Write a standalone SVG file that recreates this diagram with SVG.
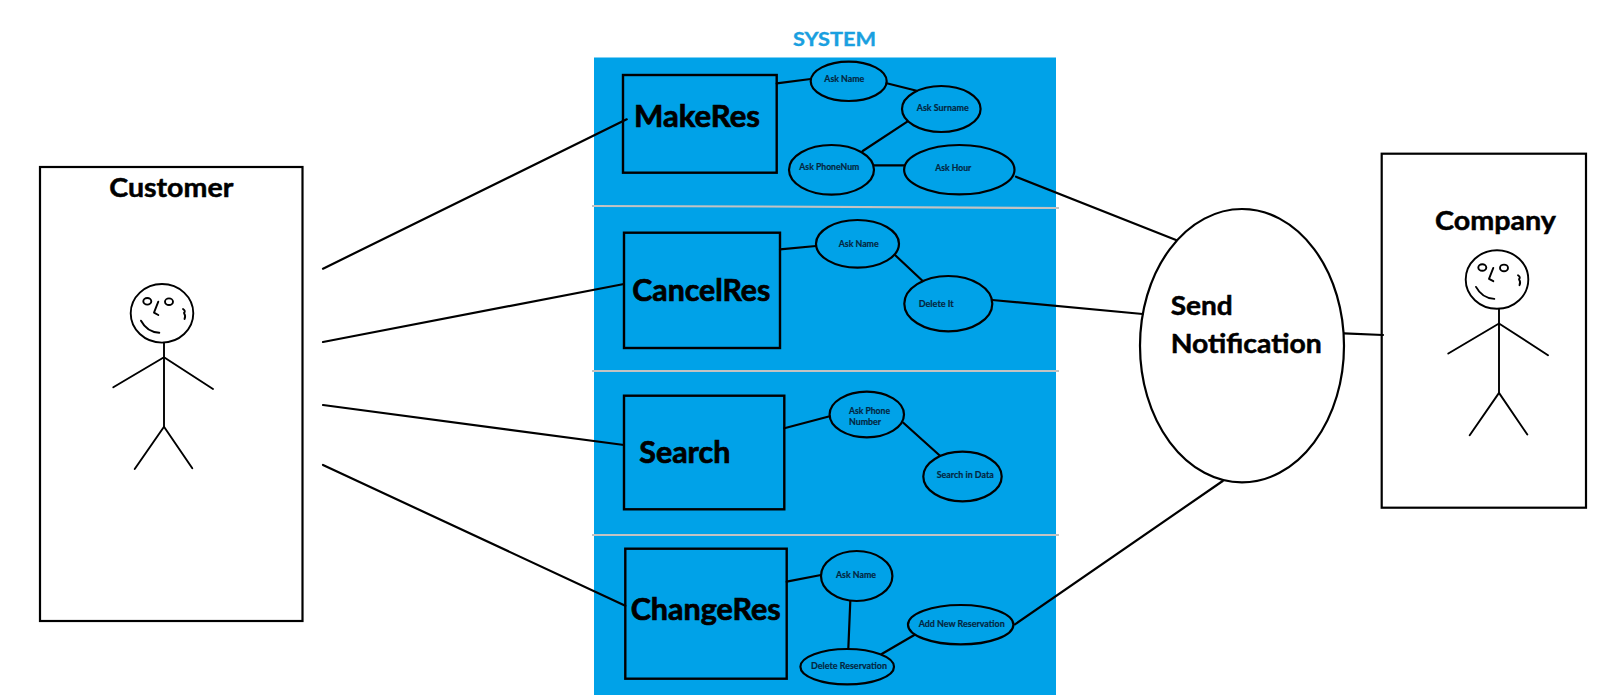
<svg xmlns="http://www.w3.org/2000/svg" xmlns:xlink="http://www.w3.org/1999/xlink" width="1600" height="700" viewBox="0 0 1600 700">
<style>
text{font-family:"Lato","Open Sans","Liberation Sans",sans-serif;font-weight:700;fill:#000}
.big{font-size:29.500px;stroke:#000;stroke-width:.7}
.act{font-size:27px;stroke:#000;stroke-width:.5}
.small{font-size:10.200px;fill:#04263f;stroke:#04263f;stroke-width:.2}
.title{font-size:19px;fill:#1a9fe0;stroke:#1a9fe0;stroke-width:.4}
.box{fill:none;stroke:#000;stroke-width:2.200}
.panelbox{fill:#00a2e8;stroke:#000;stroke-width:2.400}
.oval{fill:#00a2e8;stroke:#000;stroke-width:2.200}
.ln{fill:none;stroke:#000;stroke-width:2.200;stroke-linecap:round}
.fig{fill:none;stroke:#000;stroke-width:1.900;stroke-linecap:round;stroke-linejoin:round}
.sep{stroke:#c3c3c3;stroke-width:2.200;fill:none}
</style>
<defs>
<g id="stick" class="fig">
<ellipse cx="162" cy="313.300" rx="31.300" ry="29.300"/>
<ellipse cx="147.300" cy="301.300" rx="4" ry="3.300"/>
<ellipse cx="169" cy="301.700" rx="4" ry="3.300"/>
<path d="M158.300 301.700L154 312.700L158.300 315"/>
<path d="M141 320.700Q147 332 159.300 332.700"/>
<path d="M183 309Q186 311 184 313Q186 316 184.500 319"/>
<path d="M164 342.700V426.700"/>
<path d="M113.300 387.300L164 357.300L213 389"/>
<path d="M134.700 469L164 426.700L192.300 468.300"/>
</g>
</defs>

<rect x="594" y="57.500" width="462" height="637.500" fill="#00a2e8"/>
<g fill="none">
<path class="sep" d="M592 206L760 206.500L1059 208"/>
<path class="sep" d="M592 371H1059"/>
<path class="sep" d="M592 535H1059"/>
</g>
<text class="title" x="793" y="46" textLength="83" lengthAdjust="spacingAndGlyphs">SYSTEM</text>

<g id="customer">
<rect class="box" x="40" y="167" width="262.500" height="454"/>
<text class="act" x="109.300" y="196.700" textLength="124" lengthAdjust="spacingAndGlyphs">Customer</text>
<use xlink:href="#stick"/>
</g>

<g id="company">
<rect class="box" x="1381.700" y="153.700" width="204.300" height="354"/>
<text class="act" x="1435" y="230" textLength="121" lengthAdjust="spacingAndGlyphs">Company</text>
<use xlink:href="#stick" transform="translate(1335 -33.800)"/>
</g>

<g id="send-notification">
<ellipse cx="1242" cy="345.700" rx="102" ry="136.700" fill="#fff" stroke="#000" stroke-width="2.200"/>
<text class="act" x="1170.700" y="315.300" textLength="62" lengthAdjust="spacingAndGlyphs">Send</text>
<text class="act" x="1170.700" y="353.300" textLength="151" lengthAdjust="spacingAndGlyphs">Notification</text>
</g>

<g id="makeres">
<rect class="panelbox" x="623" y="75" width="153.700" height="97.700"/>
<text class="big" x="634" y="127" textLength="126" lengthAdjust="spacingAndGlyphs">MakeRes</text>
</g>
<g id="makeres-askname"><ellipse class="oval" cx="848.700" cy="81.300" rx="38" ry="19.700"/><text class="small" x="824.300" y="82.300" textLength="40" lengthAdjust="spacingAndGlyphs">Ask Name</text></g>
<g id="makeres-asksurname"><ellipse class="oval" cx="941.300" cy="109" rx="39.300" ry="23"/><text class="small" x="916.700" y="110.700" textLength="52" lengthAdjust="spacingAndGlyphs">Ask Surname</text></g>
<g id="makeres-askphonenum"><ellipse class="oval" cx="831.500" cy="169.800" rx="42.500" ry="24.800"/><text class="small" x="799.300" y="170.300" textLength="60" lengthAdjust="spacingAndGlyphs">Ask PhoneNum</text></g>
<g id="makeres-askhour"><ellipse class="oval" cx="959.300" cy="169.700" rx="55.200" ry="24.700"/><text class="small" x="935.300" y="171.300" textLength="36" lengthAdjust="spacingAndGlyphs">Ask Hour</text></g>

<g id="cancelres">
<rect class="panelbox" x="624" y="232.700" width="156" height="115.300"/>
<text class="big" x="632.300" y="300.700" textLength="138" lengthAdjust="spacingAndGlyphs">CancelRes</text>
</g>
<g id="cancelres-askname"><ellipse class="oval" cx="857.500" cy="243.800" rx="41.500" ry="23.800"/><text class="small" x="838.700" y="246.700" textLength="40" lengthAdjust="spacingAndGlyphs">Ask Name</text></g>
<g id="cancelres-deleteit"><ellipse class="oval" cx="948.300" cy="303.700" rx="44" ry="27.700"/><text class="small" x="918.700" y="306.700" textLength="35" lengthAdjust="spacingAndGlyphs">Delete It</text></g>

<g id="search">
<rect class="panelbox" x="624" y="395.700" width="160.300" height="113.600"/>
<text class="big" x="639.300" y="462.700" textLength="91" lengthAdjust="spacingAndGlyphs">Search</text>
</g>
<g id="search-askphone"><ellipse class="oval" cx="866.800" cy="414.500" rx="37.200" ry="22.800"/><text class="small" x="849" y="414" textLength="41" lengthAdjust="spacingAndGlyphs">Ask Phone</text><text class="small" x="849" y="425.300" textLength="32" lengthAdjust="spacingAndGlyphs">Number</text></g>
<g id="search-searchdata"><ellipse class="oval" cx="962.500" cy="476.500" rx="39.200" ry="24.800"/><text class="small" x="936.700" y="478.300" textLength="57" lengthAdjust="spacingAndGlyphs">Search in Data</text></g>

<g id="changeres">
<rect class="panelbox" x="625.300" y="548.700" width="161.400" height="130"/>
<text class="big" x="630.700" y="620" textLength="150" lengthAdjust="spacingAndGlyphs">ChangeRes</text>
</g>
<g id="changeres-askname"><ellipse class="oval" cx="856.700" cy="576" rx="35.700" ry="25"/><text class="small" x="836" y="577.700" textLength="40" lengthAdjust="spacingAndGlyphs">Ask Name</text></g>
<g id="changeres-delete"><ellipse class="oval" cx="847.200" cy="666.700" rx="46.800" ry="17.700"/><text class="small" x="811" y="669" textLength="76" lengthAdjust="spacingAndGlyphs">Delete Reservation</text></g>
<g id="changeres-add"><ellipse class="oval" cx="960.700" cy="624.700" rx="52.700" ry="19.700"/><text class="small" x="918.700" y="627" textLength="86" lengthAdjust="spacingAndGlyphs">Add New Reservation</text></g>

<g id="connectors">
<path class="ln" d="M323 268.700L626.700 119.300"/>
<path class="ln" d="M323 342L624 284"/>
<path class="ln" d="M323 405L624 445"/>
<path class="ln" d="M323 465L625.300 605.700"/>
<path class="ln" d="M776.700 83.300L810.700 79"/>
<path class="ln" d="M886.700 83.300L916.700 90.700"/>
<path class="ln" d="M907.300 121.700L862.700 151"/>
<path class="ln" d="M874 165.300H904.300"/>
<path class="ln" d="M1016 176.700L1176 240"/>
<path class="ln" d="M780 249.300L816 246"/>
<path class="ln" d="M895 255L922.700 281"/>
<path class="ln" d="M992.300 300L1142.700 314"/>
<path class="ln" d="M784.300 428.300L829.700 416.300"/>
<path class="ln" d="M903.300 422.700L940 455.700"/>
<path class="ln" d="M786.700 581.700L821 575"/>
<path class="ln" d="M850.300 601L848.300 649"/>
<path class="ln" d="M881.700 654L914.300 635"/>
<path class="ln" d="M1015 624.300L1222.700 481"/>
<path class="ln" d="M1344 333.300L1383 335"/>
</g>
</svg>
